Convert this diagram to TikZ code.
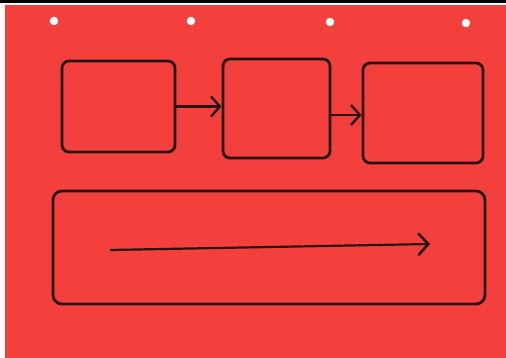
\documentclass[tikz,border=0pt]{standalone}
\usetikzlibrary{arrows.meta}
\definecolor{paper}{RGB}{243,64,60}
\definecolor{ink}{RGB}{40,18,18}
\begin{document}
\begin{tikzpicture}[x=1pt,y=-1pt,
  box/.style={draw=ink,line width=2.8pt,rounded corners=7pt,inner sep=0pt},
  flow/.style={draw=ink,line width=2.4pt,-{Straight Barb[length=9pt,width=20pt,line width=2.4pt]}},
  hole/.style={fill=white,draw=none,circle,minimum size=8.5pt,inner sep=0pt}]
\useasboundingbox (0,0) rectangle (506,358);
\fill[white] (0,0) rectangle (506,358);
\fill[paper] (5,5) rectangle (506,358);
\draw[black,line width=3pt] (0,2) -- (506,2);
\node[hole] (h1) at (54,21) {};
\node[hole] (h2) at (191,21) {};
\node[hole] (h3) at (330,22) {};
\node[hole] (h4) at (466,23) {};
\node[box,minimum width=113pt,minimum height=91pt] (b1) at (118.5,106.5) {};
\node[box,minimum width=107pt,minimum height=99pt] (b2) at (276.5,108.5) {};
\node[box,minimum width=120pt,minimum height=100pt] (b3) at (423,113) {};
\node[box,minimum width=432pt,minimum height=113pt,rounded corners=9pt] (big) at (269,247.5) {};
\draw[flow] (b1.east) -- (b1.east -| b2.west);
\draw[flow] (b2.east |- 0,115) -- (b3.west |- 0,115);
\coordinate (s) at (110,250);
\coordinate (e) at (430,244);
\draw[flow,line width=2.2pt,-{Straight Barb[length=10pt,width=22pt,line width=2.6pt]}] (s) -- (e);
\end{tikzpicture}
\end{document}
